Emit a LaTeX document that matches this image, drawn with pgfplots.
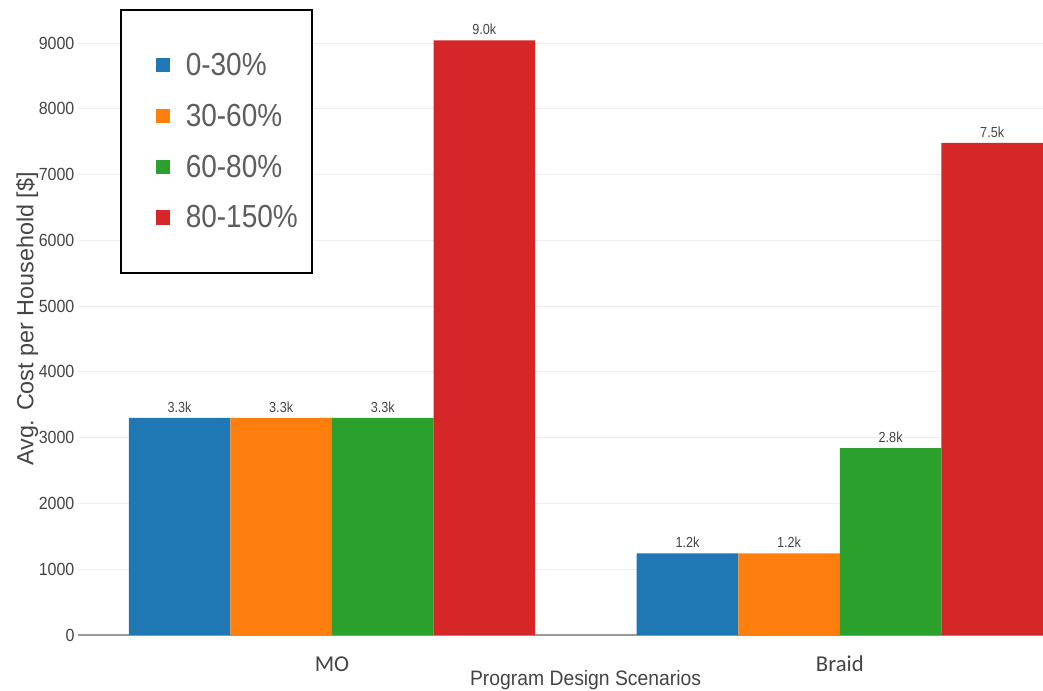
\documentclass[border=0pt]{standalone}
\usepackage{pgfplots}
\usepackage{pgfplotstable}
\usepackage{graphicx}
\usepackage{fontspec}
\pgfplotsset{compat=1.18}
\setmainfont{Liberation Sans}
\newfontfamily\carlito{Carlito}

\definecolor{c1}{HTML}{1F77B4}
\definecolor{c2}{HTML}{FF7F0E}
\definecolor{c3}{HTML}{2CA02C}
\definecolor{c4}{HTML}{D62728}
\definecolor{txtgray}{HTML}{444444}
\definecolor{leggray}{HTML}{5E5E5E}
\definecolor{gridgray}{HTML}{EEEEEE}
\definecolor{zerogray}{HTML}{9A9A9A}

% average cost per household by income band (columns) and scenario (rows)
\pgfplotstableread{
x s1 s2 s3 s4
0 3300 3300 3300 9040
1 1240 1240 2840 7480
}\costs

\pgfplotsset{
  sqlegend/.style={legend image code/.code={
      \path (-15.75pt,0pt) (22.5pt,0pt);
      \fill[##1,draw=none] (0pt,-5.5pt) rectangle (10.5pt,5.5pt);}},
}

\begin{document}
\begin{tikzpicture}
\useasboundingbox (0,0) rectangle (782.25pt,517.5pt);
\begin{axis}[
  at={(58.5pt,41.25pt)}, anchor=south west,
  scale only axis,
  width=723.75pt, height=476.25pt,
  ybar=0pt, bar width=0.2,
  xmin=-0.5, xmax=1.4,
  ymin=0, ymax=9654,
  xtick={0,1}, xticklabels={MO,Braid},
  ytick={0,1000,...,9000},
  /pgf/number format/.cd, 1000 sep={}, assume math mode=true, /pgfplots/.cd,
  yticklabel={\scalebox{1}[1.1]{\pgfmathprintnumber{\tick}}},
  yticklabel style={font=\fontsize{12}{14}\selectfont, text=txtgray, anchor=east, inner sep=0pt, xshift=-2.5pt},
  xticklabel style={font=\carlito\fontsize{17}{20}\selectfont, text=txtgray, anchor=base, yshift=-27pt},
  major tick length=0pt,
  ymajorgrids, grid style={gridgray, line width=0.75pt},
  axis x line*=bottom, axis y line*=left,
  x axis line style={zerogray, line width=1pt, -},
  y axis line style={draw=none},
  xlabel={\scalebox{1}[1.08]{Program Design Scenarios}},
  xlabel style={at={(axis description cs:0.526,-0.0803)}, anchor=base,
    font=\fontsize{14.5}{17}\selectfont, text=txtgray},
  ylabel={Avg. Cost per Household [\$]},
  ylabel style={at={(axis description cs:-0.0528,0.4976)}, anchor=center, rotate=0,
    font=\fontsize{17.5}{21}\selectfont, text=txtgray},
  nodes near coords={\scalebox{1}[1.15]{\pgfmathprintnumber[fixed,fixed zerofill,precision=1]{\pgfplotspointmeta}k}},
  every node near coord/.append style={font=\fontsize{9.5}{11}\selectfont, text=txtgray, anchor=south, inner sep=0pt, yshift=4pt},
  legend style={
    at={(axis description cs:0.0435,0.9858)}, anchor=north west,
    draw=black, line width=1.2pt, fill=white,
    inner xsep=10.5pt, inner ysep=32.25pt,
    font=\fontsize{21}{25}\selectfont, text=leggray,
    row sep=20pt,
    nodes={inner sep=0pt},
  },
  legend cell align=left,
]
\addplot[fill=c1, draw=none, sqlegend, point meta={\thisrow{s1}/1000}] table[x=x, y=s1]{\costs};
\addplot[fill=c2, draw=none, sqlegend, point meta={\thisrow{s2}/1000}] table[x=x, y=s2]{\costs};
\addplot[fill=c3, draw=none, sqlegend, point meta={\thisrow{s3}/1000}] table[x=x, y=s3]{\costs};
\addplot[fill=c4, draw=none, sqlegend, point meta={\thisrow{s4}/1000}] table[x=x, y=s4]{\costs};
\legend{\scalebox{1}[1.14]{0-30\%}, \scalebox{1}[1.14]{30-60\%}, \scalebox{1}[1.14]{60-80\%}, \scalebox{1}[1.14]{80-150\%}}
\end{axis}
\end{tikzpicture}
\end{document}
